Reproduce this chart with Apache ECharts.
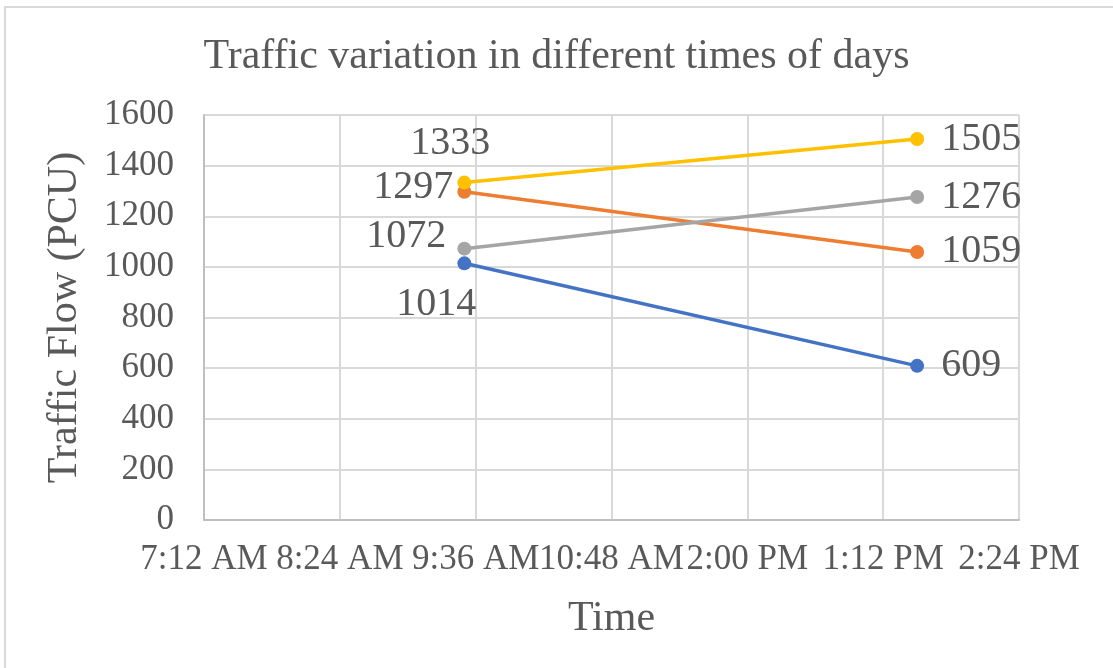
<!DOCTYPE html>
<html>
<head>
<meta charset="utf-8">
<script src="https://cdn.jsdelivr.net/npm/echarts@6/dist/echarts.min.js"></script>
<style>
  html, body { margin: 0; padding: 0; background: #ffffff; }
  #frame {
    position: absolute; left: 4px; top: 6px; right: 0; bottom: 0;
    border-left: 2px solid #d9d9d9; border-top: 2px solid #d9d9d9;
  }
  #chart { position: absolute; left: 0; top: 0; width: 1113px; height: 668px; }
</style>
</head>
<body>
<div id="frame"></div>
<div id="chart"></div>
<script>
// minutes since midnight: 9:30 AM and 1:30 PM
const times = [570, 810]
const tickLabels = ['7:12 AM', '8:24 AM', '9:36 AM', '10:48 AM', '2:00 PM', '1:12 PM', '2:24 PM']
const blueValues = [1014, 609]
const orangeValues = [1297, 1059]
const grayValues = [1072, 1276]
const yellowValues = [1333, 1505]

const font = 'Liberation Serif'
const textColor = '#595959'

// label placement for the left-hand point of each line
const rightLabel = { position: 'right', distance: 17 }
function buildData (values, firstLabel) {
  return values.map((v, i) => ({
    value: [times[i], v],
    label: i === 0 ? firstLabel : rightLabel
  }))
}

function lineSeries (name, color, values, firstLabel) {
  return {
    name: name,
    type: 'line',
    data: buildData(values, firstLabel),
    symbol: 'circle',
    symbolSize: 14,
    lineStyle: { color: color, width: 3.5 },
    itemStyle: { color: color },
    label: {
      show: true,
      fontFamily: font,
      fontSize: 40,
      color: textColor
    },
    z: 3
  }
}

const chart = echarts.init(document.getElementById('chart'))
chart.setOption({
  animation: false,
  title: {
    text: 'Traffic variation in different times of days',
    left: 'center',
    top: 31,
    textStyle: { fontFamily: font, fontSize: 42, fontWeight: 'normal', color: textColor }
  },
  grid: { left: 204, right: 94, top: 115, bottom: 148 },
  xAxis: {
    type: 'value',
    min: 432,
    max: 864,
    interval: 72,
    name: 'Time',
    nameLocation: 'middle',
    nameGap: 78,
    nameTextStyle: { fontFamily: font, fontSize: 42, color: textColor },
    axisLine: { show: true, lineStyle: { color: '#bfbfbf', width: 2 } },
    axisTick: { show: false },
    splitLine: { show: true, lineStyle: { color: '#d9d9d9', width: 2 } },
    axisLabel: {
      fontFamily: font,
      fontSize: 35,
      color: textColor,
      margin: 22,
      showMinLabel: true,
      showMaxLabel: true,
      formatter: v => tickLabels[Math.round((v - 432) / 72)]
    }
  },
  yAxis: {
    type: 'value',
    min: 0,
    max: 1600,
    interval: 200,
    name: 'Traffic Flow (PCU)',
    nameLocation: 'middle',
    nameGap: 118,
    nameTextStyle: { fontFamily: font, fontSize: 42, color: textColor },
    axisLine: { show: true, lineStyle: { color: '#bfbfbf', width: 2 } },
    axisTick: { show: false },
    splitLine: { show: true, lineStyle: { color: '#d9d9d9', width: 2 } },
    axisLabel: { fontFamily: font, fontSize: 35, color: textColor, margin: 30, formatter: v => String(v) }
  },
  series: [
    lineSeries('Series1', '#4472c4', blueValues, { position: 'bottom', distance: 14, offset: [-28, 0] }),
    lineSeries('Series2', '#ed7d31', orangeValues, { position: 'left', distance: 4, offset: [0, -4] }),
    lineSeries('Series3', '#a5a5a5', grayValues, { position: 'left', distance: 11, offset: [0, -12] }),
    lineSeries('Series4', '#ffc000', yellowValues, { position: 'top', distance: 12, offset: [-14, 0] })
  ]
})
</script>
</body>
</html>
